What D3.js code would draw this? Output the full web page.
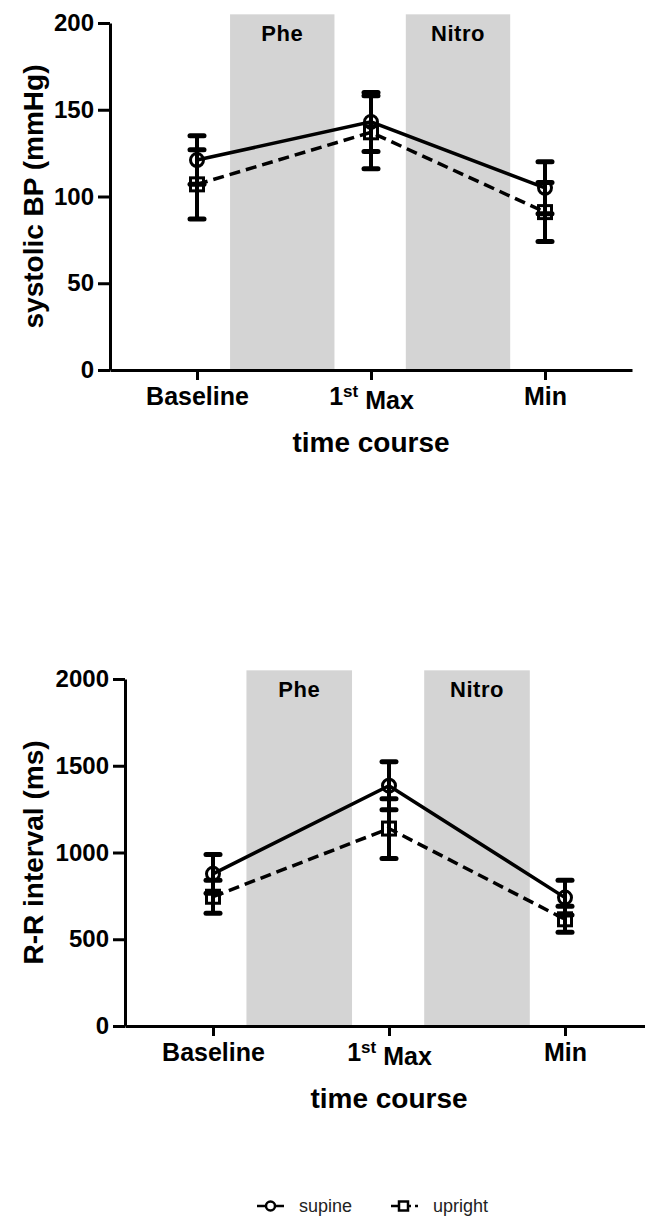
<!DOCTYPE html>
<html>
<head>
<meta charset="utf-8">
<script src="https://cdn.jsdelivr.net/npm/d3@7/dist/d3.min.js"></script>
<style>
    body { margin: 0; background: #fff; }
    svg { display: block; font-family: "Liberation Sans", Arial, sans-serif; }
</style>
</head>
<body>
<svg id="chart" width="645" height="1218"></svg>
<script>
var categories = ['Baseline', '1st Max', 'Min'];

var bpSupineMean = [121, 143, 105];
var bpSupineSd = [14, 17, 15];
var bpUprightMean = [107, 137, 91];
var bpUprightSd = [20, 21, 17];

var rrSupineMean = [877, 1385, 740];
var rrSupineSd = [112, 138, 100];
var rrUprightMean = [745, 1138, 615];
var rrUprightSd = [95, 172, 75];

var bpTicks = [0, 50, 100, 150, 200];
var rrTicks = [0, 500, 1000, 1500, 2000];

var phaseLabels = ['Phe', 'Nitro'];
var phaseFrom = [1.19, 2.2];
var phaseTo = [1.79, 2.8];

var seriesNames = ['supine', 'upright'];

var svg = d3.select('#chart');

/**
 * draws one panel (axes, shaded phases, two series with error bars)
 */
function drawPanel(opt) {
    var x = d3.scaleLinear().domain([0.5, 3.5]).range([opt.left, opt.right]);
    var y = d3.scaleLinear().domain([0, opt.max]).range([opt.bottom, opt.top]);
    var g = svg.append('g');

    // shaded phases
    phaseLabels.forEach(function (label, i) {
        var boxTop = y(opt.max * 1.025);
        g.append('rect')
            .attr('x', x(phaseFrom[i]))
            .attr('y', boxTop)
            .attr('width', x(phaseTo[i]) - x(phaseFrom[i]))
            .attr('height', y(0) - boxTop)
            .attr('fill', '#d4d4d4');
        g.append('text')
            .attr('x', x((phaseFrom[i] + phaseTo[i]) / 2))
            .attr('y', boxTop + 27)
            .attr('text-anchor', 'middle')
            .style('font-size', '22px')
            .style('font-weight', 'bold')
            .style('letter-spacing', '0.5px')
            .text(label);
    });

    // y axis
    var yAxis = g.append('g')
        .attr('transform', 'translate(' + opt.left + ',0)')
        .call(d3.axisLeft(y).tickValues(opt.ticks).tickSize(12).tickSizeOuter(0).tickPadding(4)
            .tickFormat(d3.format('d')));
    yAxis.select('.domain').attr('stroke-width', 3);
    yAxis.selectAll('.tick line').attr('stroke-width', 3);
    yAxis.selectAll('.tick text')
        .style('font-size', '24px')
        .style('font-weight', 'bold')
        .attr('fill', '#000');

    // x axis
    var xAxis = g.append('g')
        .attr('transform', 'translate(0,' + opt.bottom + ')')
        .call(d3.axisBottom(x).tickValues([1, 2, 3]).tickSize(10).tickSizeOuter(0).tickPadding(6)
            .tickFormat(function (d) { return categories[d - 1]; }));
    xAxis.select('.domain').attr('stroke-width', 3);
    xAxis.selectAll('.tick line').attr('stroke-width', 3);
    xAxis.selectAll('.tick text')
        .style('font-size', '25px')
        .style('font-weight', 'bold')
        .attr('fill', '#000')
        .attr('dy', '0.76em')
        .each(function (d) {
            var label = categories[d - 1];
            var m = label.match(/^(\d+)(st|nd|rd|th) (.*)$/);
            if (!m) return;
            var t = d3.select(this).text('');
            t.append('tspan').text(m[1]);
            t.append('tspan').attr('dy', '-0.45em').style('font-size', '17px').text(m[2]);
            t.append('tspan').attr('dy', '0.45em').text(' ' + m[3]);
        });

    // axis titles
    g.append('text')
        .attr('x', (opt.left + opt.axisEnd) / 2)
        .attr('y', opt.bottom + 82)
        .attr('text-anchor', 'middle')
        .style('font-size', '28px')
        .style('font-weight', 'bold')
        .text('time course');

    g.append('text')
        .attr('transform', 'translate(43,' + ((opt.top + opt.bottom) / 2) + ') rotate(-90)')
        .attr('text-anchor', 'middle')
        .style('font-size', '28px')
        .style('font-weight', 'bold')
        .text(opt.yTitle);

    // series
    var series = [
        {mean: opt.supineMean, sd: opt.supineSd, dash: null, shape: 'circle'},
        {mean: opt.uprightMean, sd: opt.uprightSd, dash: '11,6', shape: 'square'}
    ];

    var line = d3.line()
        .x(function (d, i) { return x(i + 1); })
        .y(function (d) { return y(d); });

    series.forEach(function (s) {
        g.append('path')
            .datum(s.mean)
            .attr('d', line)
            .attr('fill', 'none')
            .attr('stroke', '#000')
            .attr('stroke-width', 3.5)
            .attr('stroke-dasharray', s.dash);
    });

    series.forEach(function (s) {
        s.mean.forEach(function (m, i) {
            var cx = x(i + 1);
            g.append('line')
                .attr('x1', cx).attr('x2', cx)
                .attr('y1', y(m - s.sd[i])).attr('y2', y(m + s.sd[i]))
                .attr('stroke', '#000').attr('stroke-width', 4);
            [m - s.sd[i], m + s.sd[i]].forEach(function (v) {
                g.append('line')
                    .attr('x1', cx - 7).attr('x2', cx + 7)
                    .attr('y1', y(v)).attr('y2', y(v))
                    .attr('stroke', '#000').attr('stroke-width', 5)
                    .attr('stroke-linecap', 'round');
            });
        });
    });

    series.forEach(function (s) {
        s.mean.forEach(function (m, i) {
            var cx = x(i + 1), cy = y(m);
            if (s.shape === 'circle') {
                g.append('circle')
                    .attr('cx', cx).attr('cy', cy).attr('r', 6.5)
                    .attr('fill', 'none').attr('stroke', '#000').attr('stroke-width', 3);
            } else {
                g.append('rect')
                    .attr('x', cx - 6.5).attr('y', cy - 6.5)
                    .attr('width', 13).attr('height', 13)
                    .attr('fill', 'none').attr('stroke', '#000').attr('stroke-width', 3);
            }
        });
    });
}

drawPanel({
    left: 110, right: 632, axisEnd: 632, top: 23, bottom: 370, max: 200,
    ticks: bpTicks, yTitle: 'systolic BP (mmHg)',
    supineMean: bpSupineMean, supineSd: bpSupineSd,
    uprightMean: bpUprightMean, uprightSd: bpUprightSd
});

drawPanel({
    left: 125, right: 653, axisEnd: 653, top: 679, bottom: 1026, max: 2000,
    ticks: rrTicks, yTitle: 'R-R interval (ms)',
    supineMean: rrSupineMean, supineSd: rrSupineSd,
    uprightMean: rrUprightMean, uprightSd: rrUprightSd
});

// legend
var legend = svg.append('g').attr('transform', 'translate(0,1206)');
var legendX = [257, 391];
seriesNames.forEach(function (name, i) {
    var lx = legendX[i];
    var lg = legend.append('g').attr('transform', 'translate(' + lx + ',0)');
    lg.append('line')
        .attr('x1', 0).attr('x2', i === 0 ? 27 : 20)
        .attr('y1', 0).attr('y2', 0)
        .attr('stroke', '#000').attr('stroke-width', 2.5);
    if (i === 1) {
        lg.append('line')
            .attr('x1', 24).attr('x2', 27).attr('y1', 0).attr('y2', 0)
            .attr('stroke', '#000').attr('stroke-width', 2.5);
        lg.append('rect')
            .attr('x', 8).attr('y', -4.5).attr('width', 9).attr('height', 9)
            .attr('fill', '#fff').attr('stroke', '#000').attr('stroke-width', 2.5);
    } else {
        lg.append('circle')
            .attr('cx', 13.5).attr('cy', 0).attr('r', 4.5)
            .attr('fill', '#fff').attr('stroke', '#000').attr('stroke-width', 2.5);
    }
    lg.append('text')
        .attr('x', 42).attr('y', 6)
        .style('font-size', '18px')
        .attr('fill', '#222')
        .text(name);
});
</script>
</body>
</html>
